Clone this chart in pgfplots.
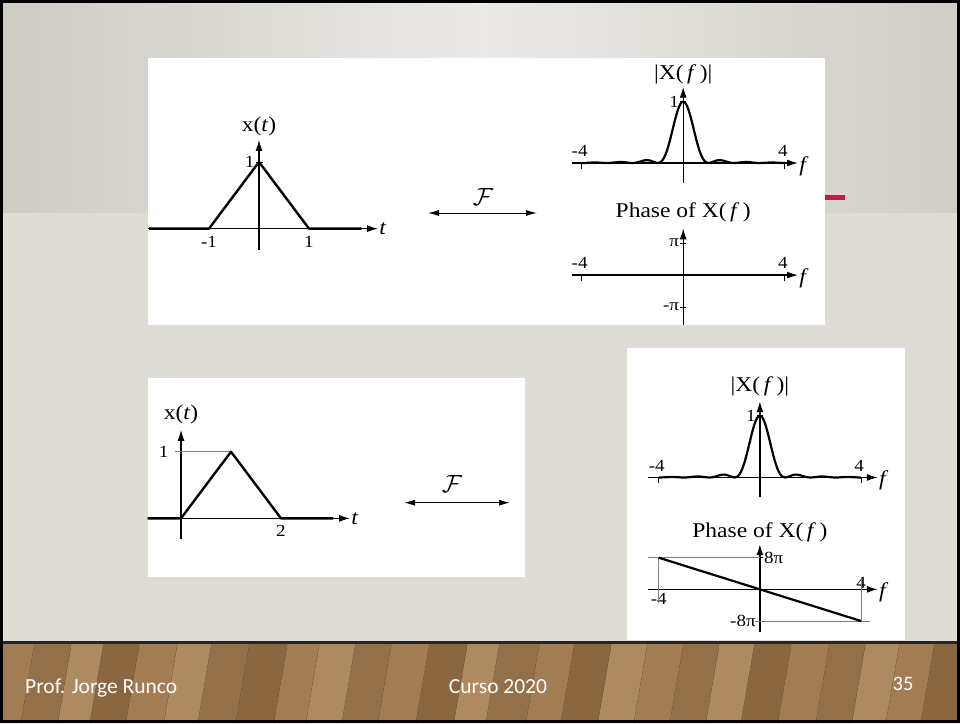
\documentclass[border=0pt]{standalone}
\usepackage{fontspec}
\setmainfont{Liberation Serif}[FakeStretch=1.12]
\newfontfamily\footfont{Carlito}
\usepackage{pgfplots}
\pgfplotsset{compat=1.18}
\usepackage{pgfplotstable}
\usetikzlibrary{arrows.meta}

\definecolor{topedge}{HTML}{CECBC5}
\definecolor{topmid}{HTML}{ECEAE6}
\definecolor{topedgeR}{HTML}{D0CDC7}
\definecolor{lowgray}{HTML}{DFDCD6}
\definecolor{crimson}{HTML}{BE1E45}
\definecolor{wa}{HTML}{A27D53}
\definecolor{wb}{HTML}{94704A}
\definecolor{wc}{HTML}{AD8A61}
\definecolor{wd}{HTML}{8A6641}
\definecolor{wline}{HTML}{4A3320}

% |X(f)| = sinc^2(f), sampled every 0.1
\pgfplotstableread{
f m
-4.0 0
-3.9 0.000636
-3.8 0.002424
-3.7 0.004844
-3.6 0.007071
-3.5 0.008271
-3.4 0.007928
-3.3 0.006090
-3.2 0.003419
-3.1 0.001007
-3.0 0
-2.9 0.001150
-2.8 0.004465
-2.7 0.009097
-2.6 0.013557
-2.5 0.016211
-2.4 0.015911
-2.3 0.012536
-2.2 0.007233
-2.1 0.002194
-2.0 0
-1.9 0.002680
-1.8 0.010804
-1.7 0.022946
-1.6 0.035799
-1.5 0.045032
-1.4 0.046758
-1.3 0.039240
-1.2 0.024309
-1.1 0.007996
-1.0 0
-0.9 0.011945
-0.8 0.054696
-0.7 0.135338
-0.6 0.254572
-0.5 0.405285
-0.4 0.572787
-0.3 0.736840
-0.2 0.875140
-0.1 0.967531
0.0 1
0.1 0.967531
0.2 0.875140
0.3 0.736840
0.4 0.572787
0.5 0.405285
0.6 0.254572
0.7 0.135338
0.8 0.054696
0.9 0.011945
1.0 0
1.1 0.007996
1.2 0.024309
1.3 0.039240
1.4 0.046758
1.5 0.045032
1.6 0.035799
1.7 0.022946
1.8 0.010804
1.9 0.002680
2.0 0
2.1 0.002194
2.2 0.007233
2.3 0.012536
2.4 0.015911
2.5 0.016211
2.6 0.013557
2.7 0.009097
2.8 0.004465
2.9 0.001150
3.0 0
3.1 0.001007
3.2 0.003419
3.3 0.006090
3.4 0.007928
3.5 0.008271
3.6 0.007071
3.7 0.004844
3.8 0.002424
3.9 0.000636
4.0 0
}\sincsq

\pgfplotsset{
  sig/.style={
    axis lines=middle, anchor=south west, clip=false,
    axis line style={line width=1.3pt, -{Latex[length=11pt,width=7pt]}},
    every tick/.style={black, line width=0.8pt},
    major tick length=7pt,
    tick label style={font=\fontsize{17}{17}\selectfont, inner sep=1pt},
    every axis x label/.style={at={(current axis.right of origin)}, anchor=west,
      font=\fontsize{21}{21}\selectfont, inner sep=1pt},
    every axis y label/.style={at={(current axis.above origin)}, anchor=south,
      font=\fontsize{21}{21}\selectfont, inner sep=1pt},
  },
  toplabels/.style={xtick align=outside, major tick length=6pt,
    xticklabel style={anchor=south, yshift=11pt, xshift=-2pt}},
  curve/.style={black, line width=2.4pt, line join=round, no markers},
  guide/.style={gray, line width=0.6pt, no markers},
}

\begin{document}
\begin{tikzpicture}
\useasboundingbox (0,0) rectangle (960pt,-723pt);

% slide background, panels and transform arrows
\begin{scope}[x=1pt,y=-1pt]
  \shade[left color=topedge, right color=topedgeR, middle color=topmid] (0,0) rectangle (960,213);
  \fill[lowgray] (0,213) rectangle (960,642);
  \fill[crimson] (825,195) rectangle (845,199.5);
  \foreach \xa/\xb/\c in {-20/35/wa, 35/72/wb, 72/104/wc, 104/140/wd, 140/178/wa,
      178/212/wc, 212/250/wb, 250/288/wd, 288/320/wa, 320/356/wc, 356/392/wb,
      392/430/wa, 430/468/wd, 468/500/wc, 500/540/wb, 540/575/wa, 575/612/wd,
      612/648/wc, 648/684/wa, 684/720/wb, 720/755/wc, 755/792/wd, 792/830/wa,
      830/866/wb, 866/900/wc, 900/935/wa, 935/990/wd}
  {
    \fill[\c] (\xa,642) -- (\xb,642) -- (\xb-14,723) -- (\xa-14,723) -- cycle;
    \draw[wline, line width=0.5pt] (\xb,642) -- (\xb-14,723);
  }
  \fill[black!85] (0,640.5) rectangle (960,643.5);

  \fill[white] (147.5,58) rectangle (825,325);
  \fill[white] (147.5,378) rectangle (525,577);
  \fill[white] (627,347.5) rectangle (905,640);

  \draw[line width=1pt, {Latex[length=11pt,width=6pt]}-{Latex[length=11pt,width=6pt]}]
    (428,213) -- (537,213);
  \node[font=\fontsize{26}{26}\selectfont] at (483,197) {$\mathcal{F}$};
  \draw[line width=1pt, {Latex[length=11pt,width=6pt]}-{Latex[length=11pt,width=6pt]}]
    (404,502.7) -- (510,502.7);
  \node[font=\fontsize{26}{26}\selectfont] at (452,484) {$\mathcal{F}$};
\end{scope}

% x(t): triangle centred at 0
\begin{axis}[sig, at={(148pt,-250pt)}, x=50pt, y=66.7pt,
    xmin=-2.22, xmax=2.38, ymin=-0.32, ymax=1.33,
    xtick={-1,1}, xticklabels={-1,1}, xtick style={draw=none},
    xticklabel style={yshift=-3pt},
    ytick={1}, yticklabels={1},
    xlabel={\textit{t}}, ylabel={x(\textit{t})},
    ylabel style={yshift=3pt}]
  \addplot[curve] coordinates {(-2.2,0) (-1,0) (0,1) (1,0) (2.05,0)};
\end{axis}

% |X(f)| of the centred triangle
\begin{axis}[sig, toplabels, at={(571.7pt,-183.3pt)}, x=25.4pt, y=61.5pt,
    xmin=-4.39, xmax=4.52, ymin=-0.33, ymax=1.24,
    xtick={-4,4}, xticklabels={-4,4},
    ytick={1}, yticklabels={1},
    xlabel={\textit{f}}, xlabel style={yshift=-3pt},
    ylabel={|X(\,\textit{f}\,)|}, ylabel style={yshift=1pt}]
  \addplot[curve, smooth, line width=2.2pt] table[x=f, y=m] {\sincsq};
\end{axis}

% phase of X(f): zero everywhere
\begin{axis}[sig, toplabels, at={(571.7pt,-325pt)}, x=25.4pt, y=32pt,
    xmin=-4.39, xmax=4.52, ymin=-1.56, ymax=1.46,
    xtick={-4,4}, xticklabels={-4,4},
    ytick={-1,1}, yticklabels={-π,π},
    ytick style={line width=0.8pt},
    xlabel={\textit{f}}, xlabel style={yshift=-3pt},
    ylabel={Phase of X(\,\textit{f}\,)}, ylabel style={yshift=5pt}]
  \addplot[curve, line width=2pt] coordinates {(-4.39,0) (4.1,0)};
\end{axis}

% x(t): triangle starting at 0
\begin{axis}[sig, at={(147.5pt,-539pt)}, x=50pt, y=66.6pt,
    xmin=-0.67, xmax=3.38, ymin=-0.31, ymax=1.33,
    xtick={2}, xticklabels={2}, xtick style={draw=none},
    xticklabel style={yshift=-2pt},
    ytick={1}, yticklabels={1}, ytick style={draw=none},
    yticklabel style={xshift=-8pt},
    xlabel={\textit{t}}, ylabel={x(\textit{t})},
    ylabel style={yshift=5pt}]
  \addplot[guide] coordinates {(-0.12,1) (1,1)};
  \addplot[curve] coordinates {(-0.67,0) (0,0) (1,1) (2,0) (3.04,0)};
\end{axis}

% |X(f)| of the shifted triangle
\begin{axis}[sig, toplabels, at={(648.3pt,-496.7pt)}, x=25.3pt, y=62pt,
    xmin=-4.41, xmax=4.66, ymin=-0.31, ymax=1.23,
    xtick={-4,4}, xticklabels={-4,4},
    ytick={1}, yticklabels={1},
    xlabel={\textit{f}}, xlabel style={yshift=-3pt},
    ylabel={|X(\,\textit{f}\,)|}, ylabel style={yshift=4pt}]
  \addplot[curve, smooth, line width=2.2pt] table[x=f, y=m] {\sincsq};
\end{axis}

% phase of the shifted triangle: linear, -2 pi f
\begin{axis}[sig, at={(648.3pt,-631.7pt)}, x=25.3pt, y=3.96pt,
    xmin=-4.41, xmax=4.66, ymin=-10.7, ymax=11.4,
    xtick={-4}, xticklabels={-4},
    extra x ticks={4}, extra x tick labels={4},
    extra x tick style={xticklabel style={anchor=south, yshift=3pt}},
    ytick={-8}, yticklabels={-8π},
    extra y ticks={8}, extra y tick labels={8π},
    extra y tick style={yticklabel style={anchor=west, xshift=6pt}},
    major tick length=6pt,
    xlabel={\textit{f}}, xlabel style={yshift=-3pt},
    ylabel={Phase of X(\,\textit{f}\,)}, ylabel style={yshift=1pt}]
  \addplot[guide] coordinates {(-4.41,8) (0,8)};
  \addplot[guide] coordinates {(-4,8) (-4,-3.5)};
  \addplot[guide] coordinates {(-0.2,-8) (4.35,-8)};
  \addplot[guide] coordinates {(4,3.1) (4,-8)};
  \addplot[curve, line width=2.2pt] coordinates {(-4,8) (4,-8)};
\end{axis}

% footer and frame
\begin{scope}[x=1pt,y=-1pt]
  \node[white, anchor=base west, inner sep=0pt, font=\footfont\fontsize{21.5}{21.5}\selectfont]
    at (25,693) {Prof. Jorge Runco};
  \node[white, anchor=base, inner sep=0pt, font=\footfont\fontsize{21.5}{21.5}\selectfont]
    at (498,693) {Curso 2020};
  \node[white, anchor=base, inner sep=0pt, font=\footfont\fontsize{20.5}{20.5}\selectfont]
    at (903,690) {35};
  \draw[black, line width=3pt] (1.5,1.5) rectangle (958.5,721.5);
\end{scope}
\end{tikzpicture}
\end{document}
